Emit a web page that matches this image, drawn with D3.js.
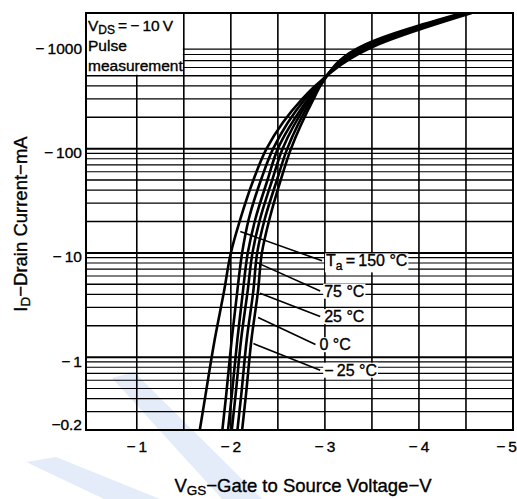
<!DOCTYPE html>
<html>
<head>
<meta charset="utf-8">
<script src="https://cdn.jsdelivr.net/npm/d3@7"></script>
<style>
  body { margin: 0; background: #fff; }
  svg { display: block; font-family: "Liberation Sans", Arial, sans-serif; }
  text { stroke: #000; stroke-width: 0.35; }
</style>
</head>
<body>
<div id="chart"></div>
<script>
const currents = [0.2, 0.43, 1.5, 4.4, 10, 21, 50, 100, 300, 410, 1000, 2000];

// VGS (V) of each curve at those currents, left curve first (hot side)
const curveA = [-1.67, -1.73, -1.83, -1.93, -2.00, -2.10, -2.24, -2.38, -2.76, -2.91, -3.57, -4.56];
const curveB = [-1.91, -1.95, -2.01, -2.07, -2.12, -2.19, -2.32, -2.45, -2.79, -2.92, -3.53, -4.54];
const curveC = [-1.97, -2.01, -2.07, -2.13, -2.18, -2.26, -2.39, -2.50, -2.82, -2.93, -3.50, -4.52];
const curveD = [-2.01, -2.05, -2.11, -2.18, -2.23, -2.31, -2.44, -2.55, -2.84, -2.94, -3.48, -4.50];
const curveE = [-2.07, -2.11, -2.17, -2.24, -2.28, -2.36, -2.49, -2.60, -2.86, -2.95, -3.45, -4.48];
const curveF = [-2.12, -2.16, -2.22, -2.29, -2.33, -2.41, -2.53, -2.64, -2.88, -2.96, -3.43, -4.46];
const curves = [curveA, curveB, curveC, curveD, curveE, curveF];

const xTicks = [-1, -2, -3, -4, -5];
const xTickLabels = ["\u2212\u20091", "\u2212\u20092", "\u2212\u20093", "\u2212\u20094", "\u2212\u20095"];
const xGrid = [-1, -1.5, -2, -2.5, -3, -3.5, -4, -4.5];
const yTicks = [1000, 100, 10, 1, 0.2];
const yTickLabels = ["\u2212\u20091000", "\u2212\u2009100", "\u2212\u200910", "\u2212\u20091", "\u22120.2"];

// temperature callouts: label, point on the curves, end of leader (VGS, mA)
const tempLabels = ["150 \u00b0C", "75 \u00b0C", "25 \u00b0C", "0 \u00b0C", "\u2212\u200925 \u00b0C"];
const leaderFrom = [[-2.10, 16], [-2.26, 8.2], [-2.31, 4.1], [-2.29, 2.4], [-2.24, 1.35]];
const leaderTo = [[-2.97, 8.4], [-2.95, 4.3], [-2.95, 2.45], [-2.90, 1.32], [-2.95, 0.75]];

var width = 517, height = 499;
var margin = {top: 13, right: 4, bottom: 69, left: 86};

var svg = d3.select("#chart").append("svg")
    .attr("width", width)
    .attr("height", height);

var x = d3.scaleLinear()
    .domain([-0.46, -5])
    .range([margin.left, width - margin.right]);

var y = d3.scaleLog()
    .domain([0.2, 2000])
    .range([height - margin.bottom, margin.top]);

// scan watermark
svg.append("g").attr("fill", "#e3ecf8")
  .selectAll("path")
  .data([
    [[112, 378], [134, 372], [262, 499], [222, 499]],
    [[26, 462], [56, 457], [160, 499], [104, 499]]
  ])
  .join("path")
    .attr("d", d => "M" + d.join("L") + "Z");

svg.append("defs").append("clipPath").attr("id", "plot")
  .append("rect")
    .attr("x", x(-0.46)).attr("y", y(2000))
    .attr("width", x(-5) - x(-0.46))
    .attr("height", y(0.2) - y(2000));

var grid = svg.append("g").attr("stroke", "#000");

var minor = [];
[0.1, 1, 10, 100].forEach(function(dec) {
  for (var k = 1; k < 10; k++) {
    var v = dec * k;
    if (v > 0.2 && v <= 1000) minor.push(v);
  }
});

grid.selectAll("line.h")
  .data(minor)
  .join("line")
    .attr("class", "h")
    .attr("x1", x(-0.46)).attr("x2", x(-5))
    .attr("y1", d => y(d)).attr("y2", d => y(d))
    .attr("stroke-width", d => [1, 10, 100, 1000].includes(d) ? 2 : (String(d).match(/^[25]/) ? 1.6 : 1.2));

grid.selectAll("line.v")
  .data(xGrid)
  .join("line")
    .attr("class", "v")
    .attr("x1", d => x(d)).attr("x2", d => x(d))
    .attr("y1", y(2000)).attr("y2", y(0.2))
    .attr("stroke-width", 1.6);

// condition box covers the grid in the top left corner
svg.append("rect")
    .attr("x", x(-0.46) + 1).attr("y", y(2000) + 1)
    .attr("width", x(-1.5) - x(-0.46) - 2)
    .attr("height", y(500) - y(2000) - 2)
    .attr("fill", "#fff");

var box = svg.append("g").attr("font-size", 15.5).attr("fill", "#000");
var t1 = box.append("text").attr("x", x(-0.46) + 2).attr("y", y(2000) + 18);
t1.append("tspan").text("V");
t1.append("tspan").attr("font-size", 12).attr("dy", 3).text("DS");
t1.append("tspan").attr("dy", -3).text("\u2009=\u2009\u2212\u200910\u2009V");
box.append("text").attr("x", x(-0.46) + 2).attr("y", y(2000) + 38).text("Pulse");
box.append("text").attr("x", x(-0.46) + 2).attr("y", y(2000) + 58).text("measurement");

// frame
svg.append("rect")
    .attr("x", x(-0.46)).attr("y", y(2000))
    .attr("width", x(-5) - x(-0.46))
    .attr("height", y(0.2) - y(2000))
    .attr("fill", "none").attr("stroke", "#000").attr("stroke-width", 2);

// curves (x is a function of y here, so go monotone in y)
var line = d3.line()
    .x(d => x(d[0]))
    .y(d => y(d[1]))
    .curve(d3.curveMonotoneY);

svg.append("g").attr("clip-path", "url(#plot)")
  .selectAll("path")
  .data(curves)
  .join("path")
    .attr("d", c => line(c.map((v, i) => [v, currents[i]]).reverse()))
    .attr("fill", "none")
    .attr("stroke", "#000")
    .attr("stroke-width", 2.6);

// callouts
var ann = svg.append("g");
ann.selectAll("line")
  .data(tempLabels)
  .join("line")
    .attr("x1", (d, i) => x(leaderFrom[i][0])).attr("y1", (d, i) => y(leaderFrom[i][1]))
    .attr("x2", (d, i) => x(leaderTo[i][0])).attr("y2", (d, i) => y(leaderTo[i][1]))
    .attr("stroke", "#000").attr("stroke-width", 1.6);

var labs = ann.selectAll("g.lab")
  .data(tempLabels)
  .join("g")
    .attr("class", "lab")
    .attr("transform", (d, i) => "translate(" + (x(leaderTo[i][0]) + 4) + "," + y(leaderTo[i][1]) + ")");

labs.each(function(d, i) {
  var g = d3.select(this);
  var bg = g.append("rect").attr("fill", "#fff");
  var t = g.append("text").attr("font-size", 16).attr("dy", "0.35em");
  if (i === 0) {
    t.append("tspan").text("T");
    t.append("tspan").attr("font-size", 12).attr("dy", 4).text("a");
    t.append("tspan").attr("dy", -4).text("\u2009=\u2009" + d);
  } else {
    t.text(d);
  }
  var b = t.node().getBBox();
  bg.attr("x", b.x - 1).attr("y", b.y + 1).attr("width", b.width + 2).attr("height", b.height - 2);
});

// tick labels
svg.append("g").attr("font-size", 15.5).attr("text-anchor", "end")
  .selectAll("text")
  .data(yTicks)
  .join("text")
    .attr("x", margin.left - 4)
    .attr("y", d => d === 0.2 ? y(d) - 5 : y(d) + 4)
    .attr("dy", "0.35em")
    .text((d, i) => yTickLabels[i]);

svg.append("g").attr("font-size", 15.5)
  .selectAll("text")
  .data(xTicks)
  .join("text")
    .attr("x", d => d === -5 ? width : x(d))
    .attr("text-anchor", d => d === -5 ? "end" : "middle")
    .attr("y", y(0.2) + 22)
    .text((d, i) => xTickLabels[i]);

// axis titles
var xt = svg.append("text").attr("font-size", 18.5)
    .attr("text-anchor", "middle")
    .attr("x", 303).attr("y", 492);
xt.append("tspan").text("V");
xt.append("tspan").attr("font-size", 13.5).attr("dy", 3).text("GS");
xt.append("tspan").attr("dy", -3).text("\u2212Gate to Source Voltage\u2212V");

var yt = svg.append("text").attr("font-size", 18.5)
    .attr("text-anchor", "middle")
    .attr("transform", "translate(27," + 224 + ") rotate(-90)");
yt.append("tspan").text("I");
yt.append("tspan").attr("font-size", 13.5).attr("dy", 3).text("D");
yt.append("tspan").attr("dy", -3).text("\u2212Drain Current\u2212mA");
</script>
</body>
</html>
